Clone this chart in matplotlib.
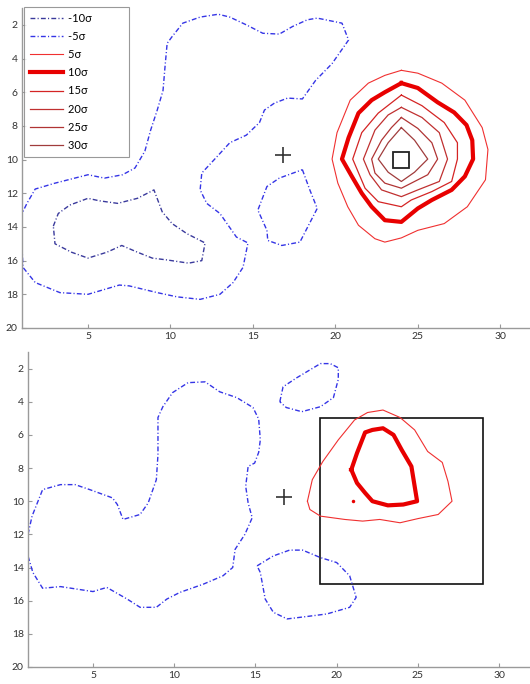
import numpy as np
import matplotlib
matplotlib.use("Agg")
import matplotlib.pyplot as plt
from matplotlib.patches import Rectangle

plt.rcParams["font.family"] = ["Lato", "DejaVu Sans"]

# ---- data (x, y) in map pixels ----
levels = ["-10σ", "-5σ", "5σ", "10σ", "15σ", "20σ", "25σ", "30σ"]

# top panel
top_m5_a = [(1, 15.2), (1.06, 16.4), (1.8, 17.3), (3.3, 17.9), (5, 18), (6.9, 17.45),
            (7.5, 17.5), (9.2, 17.9), (10.4, 18.15), (11.8, 18.3), (13.0, 18.0),
            (13.8, 17.3), (14.4, 16.4), (14.7, 14.95), (14.0, 14.6), (13.0, 13.2),
            (12.2, 12.6), (11.8, 11.8), (11.9, 10.8), (12.8, 9.85), (13.6, 9.0),
            (14.6, 8.55), (15.4, 7.8), (15.7, 7.06), (16.3, 6.65), (17.1, 6.35),
            (18.0, 6.4), (18.8, 5.3), (19.8, 4.3), (20.8, 2.9), (20.4, 1.9),
            (18.9, 1.6), (18.3, 1.7), (17.4, 2.1), (16.6, 2.55), (15.6, 2.5),
            (14.6, 2.0), (13.6, 1.54), (12.9, 1.37), (11.8, 1.54), (10.75, 1.9),
            (10.1, 2.7), (9.8, 3.1), (9.67, 4.5), (9.55, 5.9), (9.2, 7.06),
            (8.8, 8.25), (8.45, 9.5), (7.85, 10.5), (7.1, 10.9), (6, 11.1),
            (5, 10.9), (3, 11.4), (1.8, 11.75), (1.3, 12.6), (1, 13.2)]
top_m5_b = [(18, 10.6), (18.45, 11.8), (18.9, 12.9), (17.85, 14.9), (16.75, 15.1),
            (15.9, 14.8), (15.85, 14.2), (15.3, 13.0), (15.85, 11.6), (16.6, 11.1),
            (18, 10.6)]
top_m10 = [(2.9, 13.95), (3.2, 13.2), (3.9, 12.7), (5, 12.3), (5.7, 12.45),
           (6.8, 12.6), (8, 12.3), (9.0, 11.8), (9.5, 13.1), (10.1, 13.8),
           (11, 14.4), (12.1, 14.95), (11.9, 16), (11.1, 16.15), (9.8, 15.96),
           (8.9, 15.85), (8.0, 15.5), (7.05, 15.1), (6.15, 15.5), (5, 15.85),
           (4.0, 15.5), (3.0, 15.0), (2.9, 13.95)]
top_p5 = [(24, 4.7), (25, 4.87), (26.45, 5.46), (27.85, 6.47), (28.9, 8.1),
          (29.25, 9.4), (29.1, 11.2), (28, 12.8), (26.6, 13.8), (25, 14.2),
          (24, 14.65), (23, 14.9), (22.4, 14.7), (21.4, 13.9), (20.75, 12.8),
          (20.15, 11.4), (19.8, 9.97), (20.1, 8.4), (20.9, 6.47), (22, 5.46),
          (23, 5.0), (24, 4.7)]
top_p10 = [(24, 5.46), (25, 5.75), (26.2, 6.6), (27.2, 7.2), (27.95, 7.95),
           (28.3, 8.85), (28.35, 9.97), (27.85, 11.0), (27.05, 11.8), (25.85, 12.4),
           (25, 12.9), (24, 13.7), (23, 13.6), (22.2, 12.8), (21.6, 12.0),
           (21, 11.0), (20.4, 9.97), (20.8, 8.7), (21.4, 7.24), (22.2, 6.47),
           (23, 6.0), (24, 5.46)]
top_p15 = [(24, 6.17), (25.25, 6.8), (26.6, 7.8), (27.4, 9.0), (27.4, 9.97),
           (27.05, 11.3), (25.85, 11.9), (24.6, 12.4), (24, 12.8), (22.6, 12.5),
           (21.8, 11.7), (21.05, 9.97), (21.6, 8.4), (22.6, 7.24), (24, 6.17)]
top_p20 = [(24, 6.9), (25.25, 7.5), (26.3, 8.4), (26.8, 9.97), (26.3, 11.3),
           (25, 11.8), (24, 12.2), (22.8, 11.8), (22.1, 10.9), (21.7, 9.97),
           (22.4, 8.25), (23.2, 7.35), (24, 6.9)]
top_p25 = [(24, 7.5), (25, 8.15), (25.85, 9.0), (26.2, 9.97), (25.6, 10.9),
           (24.6, 11.4), (24, 11.7), (23, 11.4), (22.4, 10.8), (22.2, 9.97),
           (22.8, 8.85), (23.4, 8.1), (24, 7.5)]
top_p30 = [(24, 8.1), (24.8, 8.85), (25.6, 9.97), (24.8, 10.75), (24, 11.3),
           (23.2, 10.75), (22.6, 9.97), (23.2, 9.0), (24, 8.1)]
top_source = (24.0, 10.0)
top_center = (16.8, 9.75)

# bottom panel
bot_m5_a = [(1, 12.0), (1.25, 10.9), (1.9, 9.3), (3.0, 9.0), (3.9, 9.0), (4.8, 9.3),
            (6.2, 9.8), (6.5, 10.2), (6.85, 11.1), (7.9, 10.8), (8.4, 10.1),
            (8.9, 8.7), (9.0, 7.2), (9.0, 4.95), (9.3, 4.3), (9.9, 3.45),
            (10.85, 2.85), (11.9, 2.8), (12.8, 3.4), (13.85, 3.75), (14.85, 4.35),
            (15.2, 5.05), (15.3, 6.3), (15.2, 7.05), (14.95, 7.7), (14.55, 7.9),
            (14.4, 9.1), (14.55, 10.1), (14.8, 11.0), (14.35, 12.0), (13.75, 12.9),
            (13.6, 14.0), (13.0, 14.5), (11.8, 15.0), (10.35, 15.5), (9.55, 15.9),
            (8.9, 16.4), (7.9, 16.4), (7.1, 15.9), (5.85, 15.2), (5.0, 15.45),
            (4.0, 15.3), (3.0, 15.15), (1.9, 15.25), (1.3, 14.3), (1, 13.3)]
bot_m5_b = [(16.5, 4.0), (16.7, 3.1), (17.55, 2.55), (19.0, 1.7), (19.6, 1.7),
            (20.1, 1.95), (20.1, 2.65), (19.8, 3.75), (19.0, 4.3), (17.85, 4.6),
            (16.9, 4.35), (16.5, 4.0)]
bot_m5_c = [(15.1, 13.9), (16.1, 13.3), (17.1, 12.95), (17.9, 12.95), (19.0, 13.4),
            (20.0, 13.7), (20.8, 14.5), (21.2, 15.8), (20.8, 16.4), (19.4, 16.8),
            (18.2, 16.95), (16.95, 17.1), (16.1, 16.7), (15.6, 15.9), (15.3, 14.3),
            (15.1, 13.9)]
bot_p5 = [(18.2, 10.0), (18.5, 8.7), (19.15, 7.6), (20.1, 6.3), (21.1, 5.1),
          (21.9, 4.65), (22.85, 4.5), (23.9, 4.95), (24.8, 5.7), (25.6, 7.0),
          (26.5, 7.66), (26.85, 8.8), (27.1, 10.0), (26.25, 10.8), (25.0, 11.05),
          (23.9, 11.3), (22.65, 11.1), (21.6, 11.2), (20.5, 11.1), (19.0, 10.9),
          (18.35, 10.5), (18.2, 10.0)]
bot_p10 = [(20.9, 8.1), (21.25, 7.1), (21.75, 5.85), (22.2, 5.7), (22.85, 5.6),
           (23.5, 6.0), (24.0, 6.9), (24.6, 7.9), (24.95, 10.0), (24.1, 10.2),
           (23.15, 10.25), (22.2, 10.0), (21.75, 9.5), (21.25, 8.9), (20.9, 8.1)]
bot_p5_dot = (21.0, 10.0)
bot_center = (16.75, 9.75)
bot_box = (19, 5, 29, 15)  # x0, y0, x1, y1

# ---- styles ----
dashdot = (3.5, 1.6, 0.8, 1.6)
style = {
    "-10σ": dict(color="#3a3a9c", lw=1.0, dashes=dashdot),
    "-5σ": dict(color="#3535e6", lw=1.0, dashes=dashdot),
    "5σ": dict(color="#f03030", lw=0.8, ls="-"),
    "10σ": dict(color="#e80000", lw=3.0, ls="-"),
    "15σ": dict(color="#d42424", lw=0.9, ls="-"),
    "20σ": dict(color="#c03030", lw=0.9, ls="-"),
    "25σ": dict(color="#b03434", lw=0.9, ls="-"),
    "30σ": dict(color="#a03c3c", lw=0.9, ls="-"),
}


def draw(ax, pts, lev, label=None):
    a = np.array(pts)
    ax.plot(a[:, 0], a[:, 1], label=label, **style[lev])


def setup(ax, xmax):
    ax.set_xlim(1, xmax)
    ax.set_ylim(20, 1)
    ax.set_xticks([5, 10, 15, 20, 25, 30])
    ax.set_yticks(np.arange(2, 21, 2))
    for s in ["top", "right"]:
        ax.spines[s].set_visible(False)
    for s in ["left", "bottom"]:
        ax.spines[s].set_color("#9a9a9a")
        ax.spines[s].set_linewidth(1.0)
    ax.tick_params(direction="in", length=3, width=0.8, color="#9a9a9a",
                   labelsize=7.5, labelcolor="#333333", pad=3)


fig = plt.figure(figsize=(5.3, 6.84), dpi=100)

# top panel
ax1 = fig.add_axes([22 / 530, 1 - 328 / 684, 1 - 22 / 530, 320 / 684])
draw(ax1, top_m10, "-10σ", levels[0])
draw(ax1, top_m5_a, "-5σ", levels[1])
draw(ax1, top_m5_b, "-5σ")
draw(ax1, top_p5, "5σ", levels[2])
draw(ax1, top_p10, "10σ", levels[3])
draw(ax1, top_p15, "15σ", levels[4])
draw(ax1, top_p20, "20σ", levels[5])
draw(ax1, top_p25, "25σ", levels[6])
draw(ax1, top_p30, "30σ", levels[7])
ax1.plot(*top_source, marker="s", ms=11, mfc="none", mec="#222222", mew=1.3)
ax1.plot(*top_center, marker="+", ms=11, color="#333333", mew=1.2)
setup(ax1, 31.8)
handles, labels = ax1.get_legend_handles_labels()
# pad labels so the box is as wide as the original
labels = [lab + "\u2003\u2003\u2003\u2002" for lab in labels]
leg = ax1.legend(handles, labels, loc="upper left", bbox_to_anchor=(0.004, 1.003),
                 fontsize=8, handlelength=3.0, labelspacing=0.65, fancybox=False,
                 borderpad=0.5, handletextpad=0.5, borderaxespad=0.0)
leg.get_frame().set_edgecolor("#808080")
leg.get_frame().set_linewidth(0.8)

# bottom panel
ax2 = fig.add_axes([28 / 530, 1 - 667 / 684, 1 - 28 / 530, 315 / 684])
draw(ax2, bot_m5_a, "-5σ")
draw(ax2, bot_m5_b, "-5σ")
draw(ax2, bot_m5_c, "-5σ")
draw(ax2, bot_p5, "5σ")
draw(ax2, bot_p10, "10σ")
ax2.plot(*bot_p5_dot, marker="o", ms=2.5, color="#e80000", mew=0)
ax2.plot(*bot_center, marker="+", ms=11, color="#333333", mew=1.2)
x0, y0, x1, y1 = bot_box
ax2.add_patch(Rectangle((x0, y0), x1 - x0, y1 - y0, fill=False,
                        edgecolor="#111111", lw=1.2))
setup(ax2, 31.9)

fig.savefig("out.png", dpi=100)
